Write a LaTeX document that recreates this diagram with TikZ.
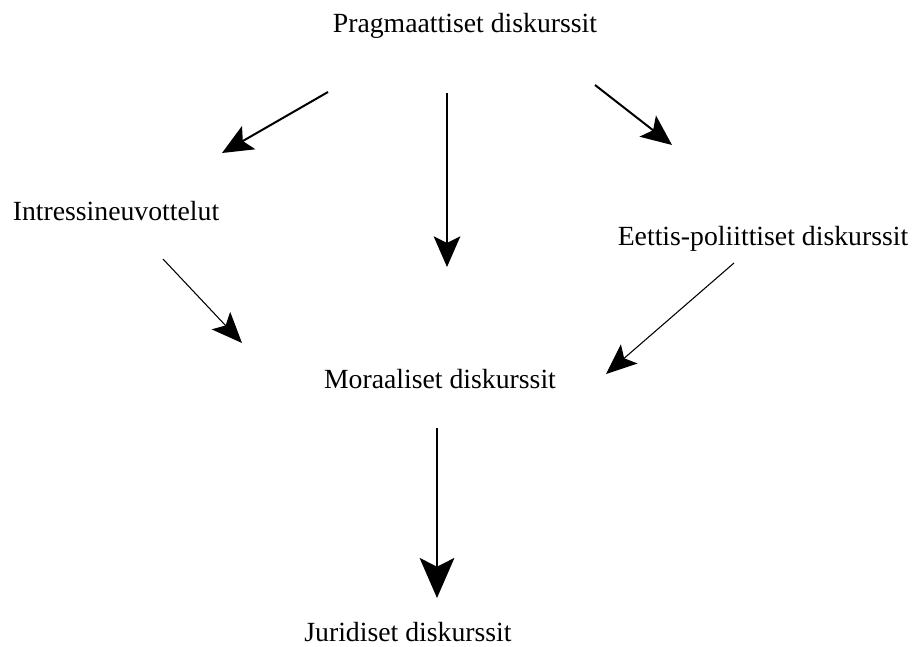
\documentclass[tikz,border=0pt]{standalone}
\usepackage{fontspec}
\setmainfont{Liberation Serif}
\usetikzlibrary{arrows.meta}
\tikzset{
  label text/.style={anchor=base, inner sep=0pt, font=\fontsize{20.8}{25}\selectfont},
  bold arrow/.style={line width=1.5pt, -{Stealth[length=23pt, width=20pt, inset=5pt]}},
  big arrow/.style={line width=1.5pt, -{Stealth[length=30pt, width=26pt, inset=6.5pt]}},
  thin arrow/.style={line width=0.8pt, -{Stealth[length=23pt, width=19pt, inset=5pt]}},
}
\begin{document}
\begin{tikzpicture}[x=0.75pt, y=-0.75pt]
  \fill[white] (0,0) rectangle (913,646);
  \useasboundingbox (0,0) rectangle (913,646);

  % discourse types
  \node[label text] (prag) at (465,32)  {Pragmaattiset diskurssit};
  \node[label text] (intr) at (116,220) {Intressineuvottelut};
  \node[label text] (eett) at (763,245) {Eettis-poliittiset diskurssit};
  \node[label text] (mora) at (440,388) {Moraaliset diskurssit};
  \node[label text] (juri) at (408,641) {Juridiset diskurssit};

  % connector end points
  \coordinate (prag-l) at (328,92);
  \coordinate (prag-m) at (447,93);
  \coordinate (prag-r) at (595,85);
  \coordinate (intr-in) at (222,153);
  \coordinate (mora-top) at (447,267);
  \coordinate (eett-in) at (672,145);
  \coordinate (intr-out) at (163,259);
  \coordinate (mora-l) at (242,343);
  \coordinate (eett-out) at (734,263);
  \coordinate (mora-r) at (606,374);
  \coordinate (mora-out) at (437,428);
  \coordinate (juri-in) at (437,598);

  % connectors
  \draw[bold arrow] (prag-l) -- (intr-in);
  \draw[bold arrow] (prag-m) -- (mora-top);
  \draw[bold arrow] (prag-r) -- (eett-in);
  \draw[thin arrow] (intr-out) -- (mora-l);
  \draw[thin arrow] (eett-out) -- (mora-r);
  \draw[big arrow] (mora-out) -- (juri-in);
\end{tikzpicture}
\end{document}
